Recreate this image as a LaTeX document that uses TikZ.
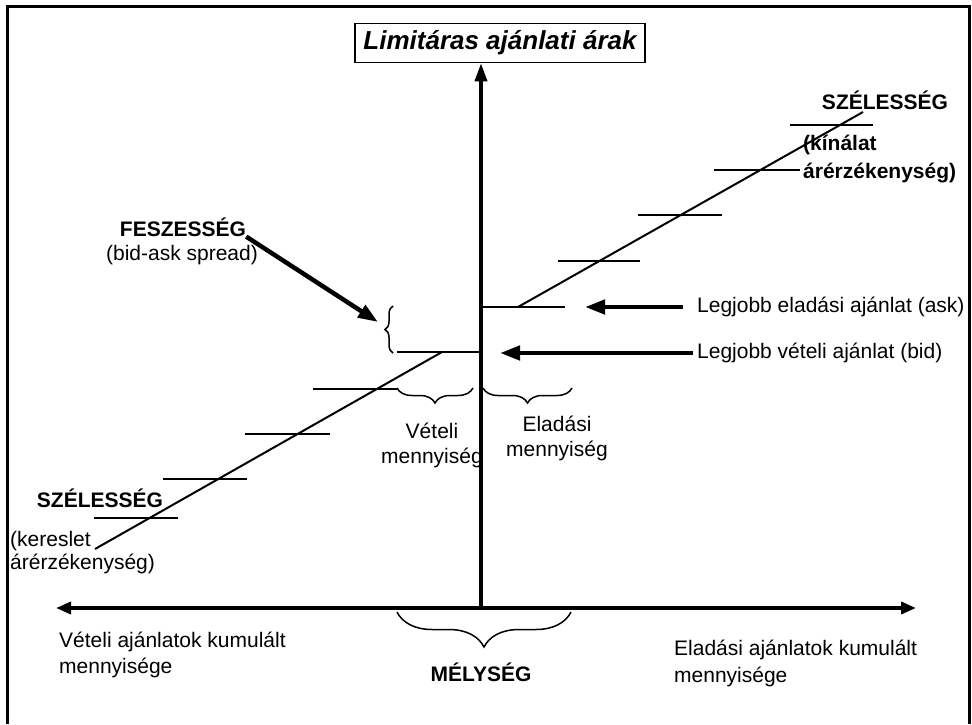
\documentclass[tikz,border=0pt]{standalone}
\usepackage{fontspec}
\setmainfont{Liberation Sans}
\usetikzlibrary{arrows.meta}
\usetikzlibrary{decorations.pathreplacing}
\tikzset{every node/.style={
        font=\fontsize{21}{25}\selectfont,
        inner sep=0pt},
    heading/.style={
        font=\fontsize{21}{25}\selectfont\bfseries},
    titlebox/.style={
        draw,
        line width=1.5pt,
        minimum width=290pt,
        minimum height=39pt,
        font=\fontsize{26}{30}\selectfont\bfseries\itshape},
    frame/.style={
        line width=3pt},
    axis/.style={
        line width=3.5pt,
        -{Triangle[length=18pt,width=12pt]}},
    pointer/.style={
        line width=4.5pt,
        -{Triangle[length=20pt,width=14pt]}},
    level/.style={
        line width=2pt},
    curly/.style={
        decorate,
        line width=1.5pt,
        decoration={brace,amplitude=#1}}}

\begin{document}
\begin{tikzpicture}[x=1pt,y=-1pt]
        \useasboundingbox (0,0) rectangle (972,724);
        \draw[frame] (7,724) -- (7,6) -- (969,6) -- (969,724);

        \node[titlebox] (title) at (500,43) {Limitáras ajánlati árak};
        \coordinate (origin) at (481,608);
        \coordinate (qleft) at (56,608);
        \coordinate (qright) at (916,608);

        \draw[axis] (origin) -- (origin |- title.south);
        \draw[axis,{Triangle[length=15pt,width=12pt]}-{Triangle[length=15pt,width=12pt]}] (qleft) -- (qright);

        % kinalat
        \draw[level] (origin |- 0,307) -- (565,307);
        \foreach \y/\a/\b in {261/558/640, 215/638/722, 170/714/800, 125/790/873}
            \draw[level] (\a,\y) -- (\b,\y);
        \draw[level] (518,307) -- (863,112);

        % kereslet
        \draw[level] (397,352) -- (origin |- 0,352);
        \foreach \y/\a/\b in {389/313/397, 434/245/330, 479/163/247, 518/94/178}
            \draw[level] (\a,\y) -- (\b,\y);
        \draw[level] (442,352) -- (95,549);

        \draw[curly=8pt] (393,353) -- (393,306);
        \draw[curly=15pt] (473,388) -- (397,388);
        \draw[curly=15pt] (572,388) -- (483,388);
        \draw[curly=35pt] (571,612) -- (397,612);

        \node[heading] (feszes) at (183,227) {FESZESSÉG};
        \node (spread) at (182,255) {(bid-ask spread)};
        \coordinate (spreadtip) at (378,322);
        \draw[pointer] (feszes.south east) -- (spreadtip);

        \node[anchor=west] (asklbl) at (697,307) {Legjobb eladási ajánlat (ask)};
        \node[anchor=west] (bidlbl) at (697,353) {Legjobb vételi ajánlat (bid)};
        \coordinate (ask) at (585,307);
        \coordinate (bid) at (500,353);
        \draw[pointer,shorten <=14pt] (asklbl.west) -- (ask);
        \draw[pointer,shorten <=4pt] (bidlbl.west) -- (bid);

        \node[align=center] (vetq) at (432,445) {Vételi\\mennyiség};
        \node[align=center] (eladq) at (557,438) {Eladási\\mennyiség};

        \node[heading] (widthup) at (885,100) {SZÉLESSÉG};
        \node[heading,align=left,anchor=west,
            font=\fontsize{21}{28}\selectfont\bfseries] (supply) at (803,159) {(kínálat\\árérzékenység)};
        \node[heading] (widthdown) at (100,498) {SZÉLESSÉG};
        \node[align=left,anchor=west,
            font=\fontsize{21}{23}\selectfont] (demand) at (10,553) {(kereslet\\árérzékenység)};

        \node[align=left,anchor=west,
            font=\fontsize{21}{26}\selectfont] (buyq) at (59,655) {Vételi ajánlatok kumulált\\mennyisége};
        \node[heading] (depth) at (481,672) {MÉLYSÉG};
        \node[align=left,anchor=west,
            font=\fontsize{21}{27}\selectfont] (sellq) at (674,663) {Eladási ajánlatok kumulált\\mennyisége};
\end{tikzpicture}
\end{document}
